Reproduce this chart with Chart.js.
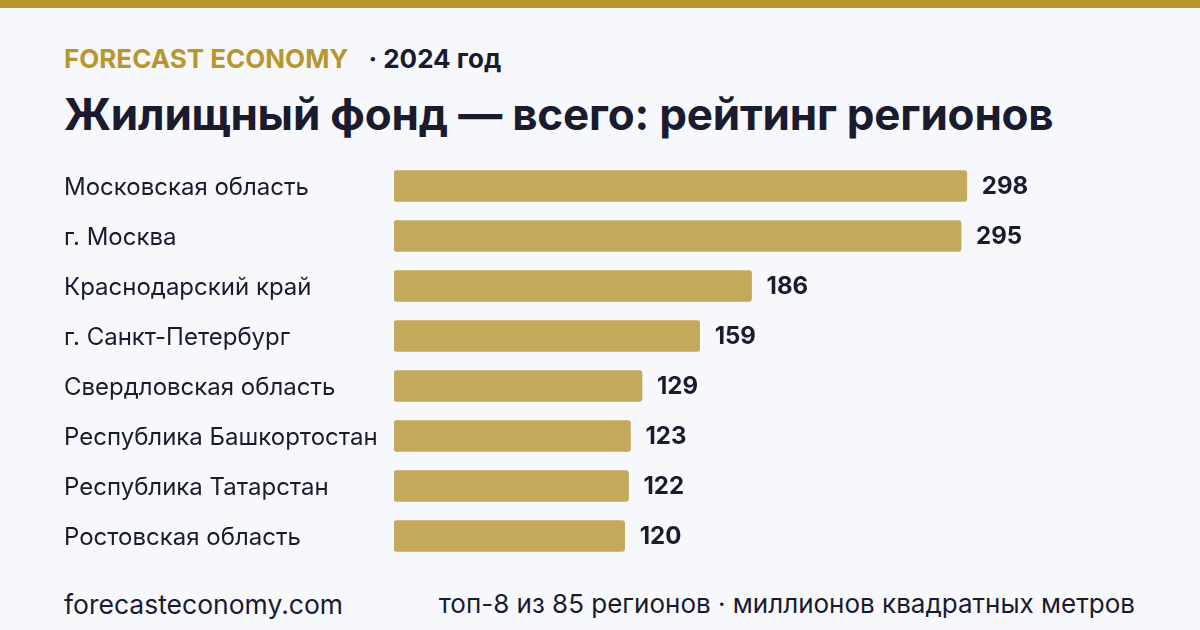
<!DOCTYPE html>
<html lang="ru">
<head>
<meta charset="utf-8">
<script src="https://cdn.jsdelivr.net/npm/chart.js@4/dist/chart.umd.min.js"></script>
<style>
  html, body { margin:0; padding:0; }
  body {
    width:1200px; height:630px; overflow:hidden; position:relative;
    background:#f7f8fc; font-family:Inter, "Noto Sans", sans-serif; color:#1b1b2f;
  }
  .topbar { position:absolute; left:0; top:0; width:1200px; height:8px; background:#b8962e; }
  .kicker { position:absolute; left:64px; top:43px; font-size:26px; font-weight:700; white-space:nowrap; }
  .kicker .brand { color:#b8962e; }
  .kicker .year { color:#1b1b2f; margin-left:20px; }
  h1 { position:absolute; left:64px; top:87px; margin:0; font-size:44px; font-weight:700; white-space:nowrap; letter-spacing:-0.2px; }
  .chart-box { position:absolute; left:64px; top:161px; width:1072px; height:400px; }
  .foot-left { position:absolute; left:64px; top:588px; font-size:26.5px; }
  .foot-right { position:absolute; right:65px; top:588px; font-size:26px; white-space:nowrap; }
</style>
</head>
<body>
<div class="topbar"></div>
<div class="kicker"><span class="brand">FORECAST ECONOMY</span><span class="year">· 2024 год</span></div>
<h1>Жилищный фонд — всего: рейтинг регионов</h1>
<div class="chart-box"><canvas id="chartRank"></canvas></div>
<div class="foot-left">forecasteconomy.com</div>
<div class="foot-right">топ-8 из 85 регионов · миллионов квадратных метров</div>

<script>
// Data: housing stock, million sq. m, 2024
const regions = [
  'Московская область',
  'г. Москва',
  'Краснодарский край',
  'г. Санкт-Петербург',
  'Свердловская область',
  'Республика Башкортостан',
  'Республика Татарстан',
  'Ростовская область'
];
const housing = [298, 295, 186, 159, 129, 123, 122, 120];

// region names on the left, values to the right of each bar
const barLabels = {
  id: 'barLabels',
  afterDatasetsDraw(chart) {
    const ctx = chart.ctx;
    const meta = chart.getDatasetMeta(0);
    ctx.save();
    ctx.textAlign = 'left';
    ctx.textBaseline = 'middle';
    ctx.fillStyle = '#1b1b2f';
    meta.data.forEach(function(bar, i) {
      ctx.font = '400 24px Inter, "Noto Sans", sans-serif';
      ctx.fillText(regions[i], 0, bar.y + 2);
      ctx.font = '700 24px Inter, "Noto Sans", sans-serif';
      ctx.fillText(String(housing[i]), bar.x + 15, bar.y + 1);
    });
    ctx.restore();
  }
};

const ctx = document.getElementById('chartRank').getContext('2d');
new Chart(ctx, {
  type: 'bar',
  data: {
    labels: regions,
    datasets: [{
      data: housing,
      backgroundColor: '#c4a95c',
      borderRadius: 3,
      borderSkipped: false,
      barThickness: 31
    }]
  },
  options: {
    indexAxis: 'y',
    responsive: true,
    maintainAspectRatio: false,
    animation: false,
    layout: { padding: { left:330, right:0, top:0, bottom:0 } },
    plugins: { legend: { display:false }, tooltip: { enabled:false } },
    scales: {
      x: { display:false, min:0, max:386 },
      y: { display:false }
    }
  },
  plugins: [barLabels]
});
</script>
</body>
</html>
